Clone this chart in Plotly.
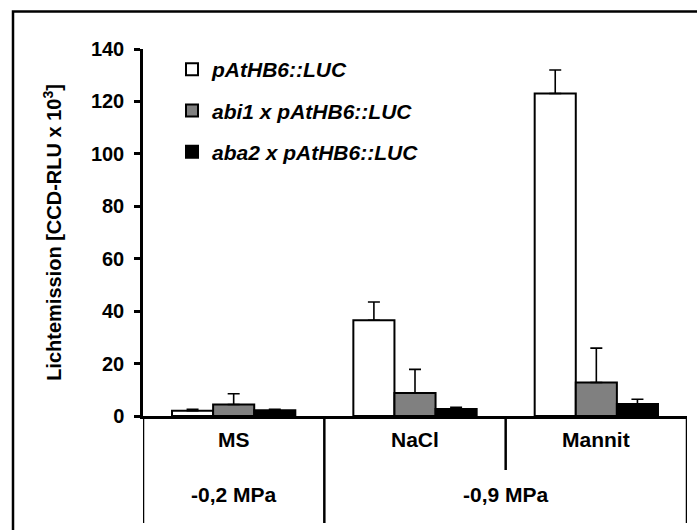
import plotly.graph_objects as go

categories = ["MS", "NaCl", "Mannit"]
series_names = ["pAtHB6::LUC", "abi1 x pAtHB6::LUC", "aba2 x pAtHB6::LUC"]
values_wt = [2.0, 36.5, 123.0]
errors_wt = [0.6, 7.0, 9.0]
values_abi1 = [4.4, 8.8, 12.8]
errors_abi1 = [4.1, 9.0, 13.1]
values_aba2 = [2.2, 2.7, 4.6]
errors_aba2 = [0.4, 0.6, 1.8]
pressure_labels = ["-0,2 MPa", "-0,9 MPa"]
y_ticks = [0, 20, 40, 60, 80, 100, 120, 140]

FONT = "Liberation Sans, Arial, sans-serif"
colors = ["#ffffff", "#808080", "#000000"]
vals = [values_wt, values_abi1, values_aba2]
errs = [errors_wt, errors_abi1, errors_aba2]

fig = go.Figure()
for name, v, e, c in zip(series_names, vals, errs, colors):
    fig.add_trace(go.Bar(
        x=categories, y=v, name=name, legendgroup=name,
        marker=dict(color=c, line=dict(color="black", width=2)),
        error_y=dict(type="data", array=e, arrayminus=[0] * len(e), symmetric=False,
                     color="black", thickness=1.6, width=6),
    ))

W, H = 697, 530
L, R, T, B = 143, 10, 49, 114
pw, ph = W - L - R, H - T - B

def px_x(x):
    return (x - L) / pw

def px_y(y):
    return (H - B - y) / ph

shapes = [
    dict(type="rect", xref="paper", yref="paper", x0=px_x(13), x1=px_x(720),
         y0=px_y(545), y1=px_y(11.5), line=dict(color="black", width=2.5)),
]
for xi, ybot in [(-0.5, 523), (0.5, 523), (1.5, 470), (2.5, 523)]:
    shapes.append(dict(type="line", xref="x", yref="paper", x0=xi, x1=xi,
                       y0=0, y1=px_y(ybot), line=dict(color="black", width=2.5)))

cat_font = dict(family=FONT, size=21, color="black", weight="bold")
annotations = []
for cat in categories:
    annotations.append(dict(x=cat, y=px_y(453), xref="x", yref="paper", text=cat,
                            showarrow=False, font=cat_font))
annotations.append(dict(x=0, y=px_y(508), xref="x", yref="paper", text=pressure_labels[0],
                        showarrow=False, font=cat_font))
annotations.append(dict(x=1.5, y=px_y(508), xref="x", yref="paper", text=pressure_labels[1],
                        showarrow=False, font=cat_font))

fig.update_layout(
    width=W, height=H,
    margin=dict(l=L, r=R, t=T, b=B),
    paper_bgcolor="white", plot_bgcolor="white",
    barmode="group", bargap=0.32, bargroupgap=0,
    showlegend=True,
    legend=dict(x=px_x(172), y=px_y(49), xanchor="left", yanchor="top",
                traceorder="grouped", tracegroupgap=11,
                bgcolor="rgba(0,0,0,0)",
                font=dict(family=FONT, size=21, color="black", weight="bold", style="italic")),
    xaxis=dict(type="category", range=[-0.5, 2.5], showticklabels=False, ticks="",
               showline=True, linecolor="black", linewidth=2.5, showgrid=False, zeroline=False),
    yaxis=dict(range=[0, 140], tickvals=y_ticks, showline=True, linecolor="black", linewidth=2.5,
               ticks="outside", ticklen=6, tickwidth=2.5, tickcolor="black",
               ticklabelstandoff=6,
               showgrid=False, zeroline=False,
               tickfont=dict(family=FONT, size=20, color="black", weight="bold"),
               title=dict(text="Lichtemission [CCD-RLU x 10<sup>3</sup>]", standoff=24,
                          font=dict(family=FONT, size=20, color="black", weight="bold"))),
    shapes=shapes,
    annotations=annotations,
)

fig.write_html("out.html")
